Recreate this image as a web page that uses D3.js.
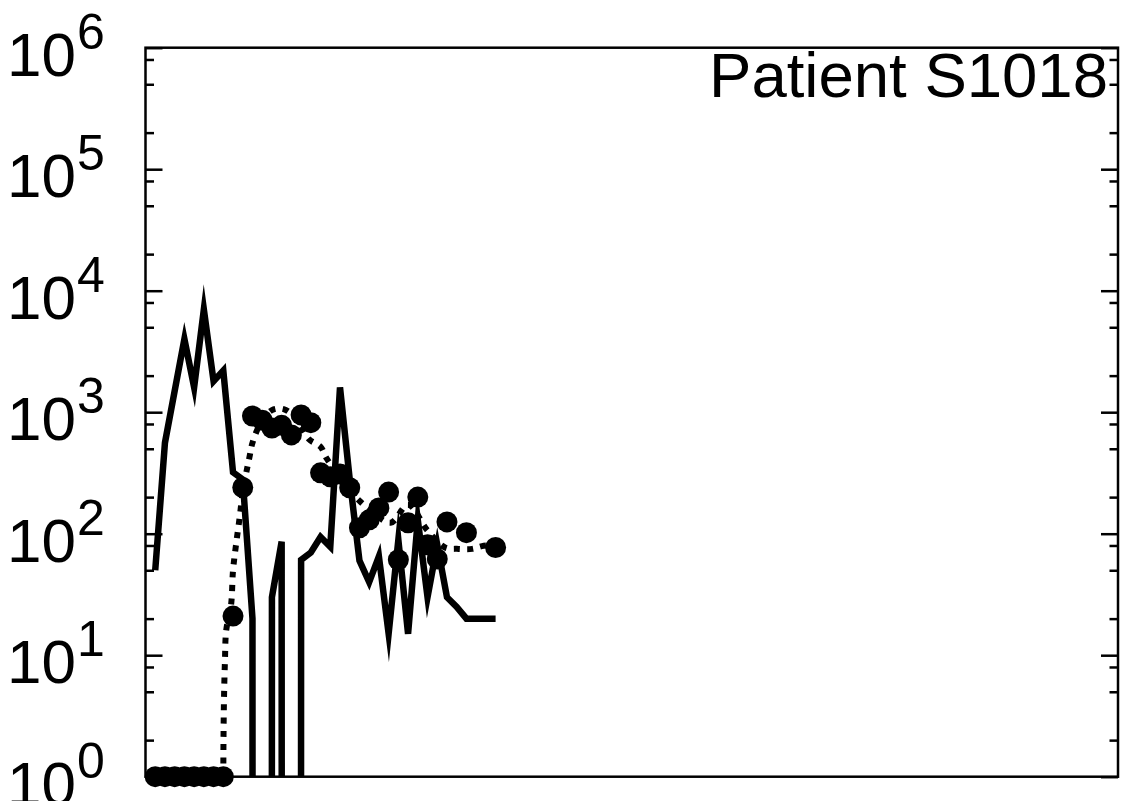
<!DOCTYPE html>
<html>
<head>
<meta charset="utf-8">
<script src="https://cdn.jsdelivr.net/npm/d3@7"></script>
<style>
  html, body { margin: 0; padding: 0; background: #fff; }
  svg { display: block; font-family: "Liberation Sans", Arial, Helvetica, sans-serif; }
</style>
</head>
<body>
<svg id="chart" width="1123" height="801"></svg>
<script>
// ---- data ----
const days = [1,2,3,4,5,6,7,8,9,10,11,12,13,14,15,16,17,18,19,20,21,22,23,24,25,26,27,28,29,30,31,32,33,34,35,36];
const solidValues = [50,560,1500,4000,1600,7000,1800,2200,320,280,20,0,30,86,0,61,70,94,78,1600,280,60,40,65,15,89,15,130,30,81,30,25,20,20,20,20];

const markerDays   = [1,2,3,4,5,6,7,8,9,10,11,12,13,14,15,16,17,18,19,20,21,22,23,24,25,26,27,28,29,30,31,33,36];
const markerValues = [1,1,1,1,1,1,1,1,21,240,930,860,740,780,650,950,820,317,294,310,239,112,130,163,220,61,123,200,81,62,125,102,77];

const fitDays   = [8.0,8.02,8.07,8.17,8.3,8.8,9.0,9.3,9.7,10.0,10.4,10.7,11.0,11.9,13.0,14.2,15.4,16.8,18.0,18.6,20.6,21.9,23.1,25.2,27.0,29.0,30.8,32.2,33.6,34.6,36.0];
const fitValues = [1,2,4.3,9,16,26,50,80,140,220,330,430,560,830,1040,1060,900,600,520,420,250,190,157,123,173,106,77,75,75,79,81];

const majorTicks = [1,10,100,1000,10000,100000,1000000];
const tickExponents = ["0","1","2","3","4","5","6"];
const minorMultipliers = [2,5,8];
const title = "Patient S1018";

// ---- layout ----
const L = 145.5, R = 1118, T = 47.7, B = 776.7;
const svg = d3.select("#chart");

const x = d3.scaleLinear().domain([0, 100]).range([L, R]);
const y = d3.scaleLog().domain([1, 1e6]).range([B, T]);

const minorTicks = [];
majorTicks.slice(0, -1).forEach(m => minorMultipliers.forEach(k => minorTicks.push(m * k)));

// clip for lines
svg.append("defs").append("clipPath").attr("id", "plotclip")
  .append("rect").attr("x", L).attr("y", T).attr("width", R - L).attr("height", B - T);

// non-positive values are clipped to a tiny floor (drop off the bottom)
const yv = v => v > 0 ? y(v) : y(1e-300);

// solid line
const solidLine = d3.line().x((d, i) => x(days[i])).y(d => yv(d));
svg.append("path")
  .attr("clip-path", "url(#plotclip)")
  .attr("d", solidLine(solidValues))
  .attr("fill", "none").attr("stroke", "#000").attr("stroke-width", 6.5)
  .attr("stroke-linejoin", "miter").attr("stroke-miterlimit", 10);

// dotted fitted curve
const fitLine = d3.line().x((d, i) => x(fitDays[i])).y(d => y(d)).curve(d3.curveCatmullRom.alpha(0.5));
svg.append("path")
  .attr("d", fitLine(fitValues))
  .attr("fill", "none").attr("stroke", "#000").attr("stroke-width", 6)
  .attr("stroke-dasharray", "6,7.3");

// markers
svg.append("g").selectAll("circle").data(markerValues).join("circle")
  .attr("cx", (d, i) => x(markerDays[i]))
  .attr("cy", d => y(d))
  .attr("r", 10.5)
  .attr("fill", "#000");

// frame
svg.append("rect").attr("x", L).attr("y", T).attr("width", R - L).attr("height", B - T)
  .attr("fill", "none").attr("stroke", "#000").attr("stroke-width", 2.5);

// axes (ticks inward)
function styleAxis(g) {
  g.select(".domain").remove();
  g.selectAll(".tick line").attr("stroke", "#000").attr("stroke-width", 2.5);
  g.selectAll(".tick text").remove();
}
svg.append("g").attr("transform", `translate(${L},0)`)
  .call(d3.axisLeft(y).tickValues(majorTicks).tickSize(-17).tickFormat(""))
  .call(styleAxis);
svg.append("g").attr("transform", `translate(${L},0)`)
  .call(d3.axisLeft(y).tickValues(minorTicks).tickSize(-8.5).tickFormat(""))
  .call(styleAxis);
svg.append("g").attr("transform", `translate(${R},0)`)
  .call(d3.axisRight(y).tickValues(majorTicks).tickSize(-17).tickFormat(""))
  .call(styleAxis);
svg.append("g").attr("transform", `translate(${R},0)`)
  .call(d3.axisRight(y).tickValues(minorTicks).tickSize(-8.5).tickFormat(""))
  .call(styleAxis);

// tick labels 10^n
const lab = svg.append("g").selectAll("g").data(majorTicks).join("g");
lab.append("text")
  .attr("x", 7).attr("y", d => y(d) + 28)
  .attr("font-size", 62).attr("fill", "#000")
  .text("10");
lab.append("text")
  .attr("x", 77).attr("y", d => y(d) + 1)
  .attr("font-size", 50).attr("fill", "#000")
  .text((d, i) => tickExponents[i]);

// title
svg.append("text")
  .attr("x", 1108).attr("y", 97)
  .attr("text-anchor", "end")
  .attr("font-size", 63.5).attr("fill", "#000")
  .text(title);
</script>
</body>
</html>
